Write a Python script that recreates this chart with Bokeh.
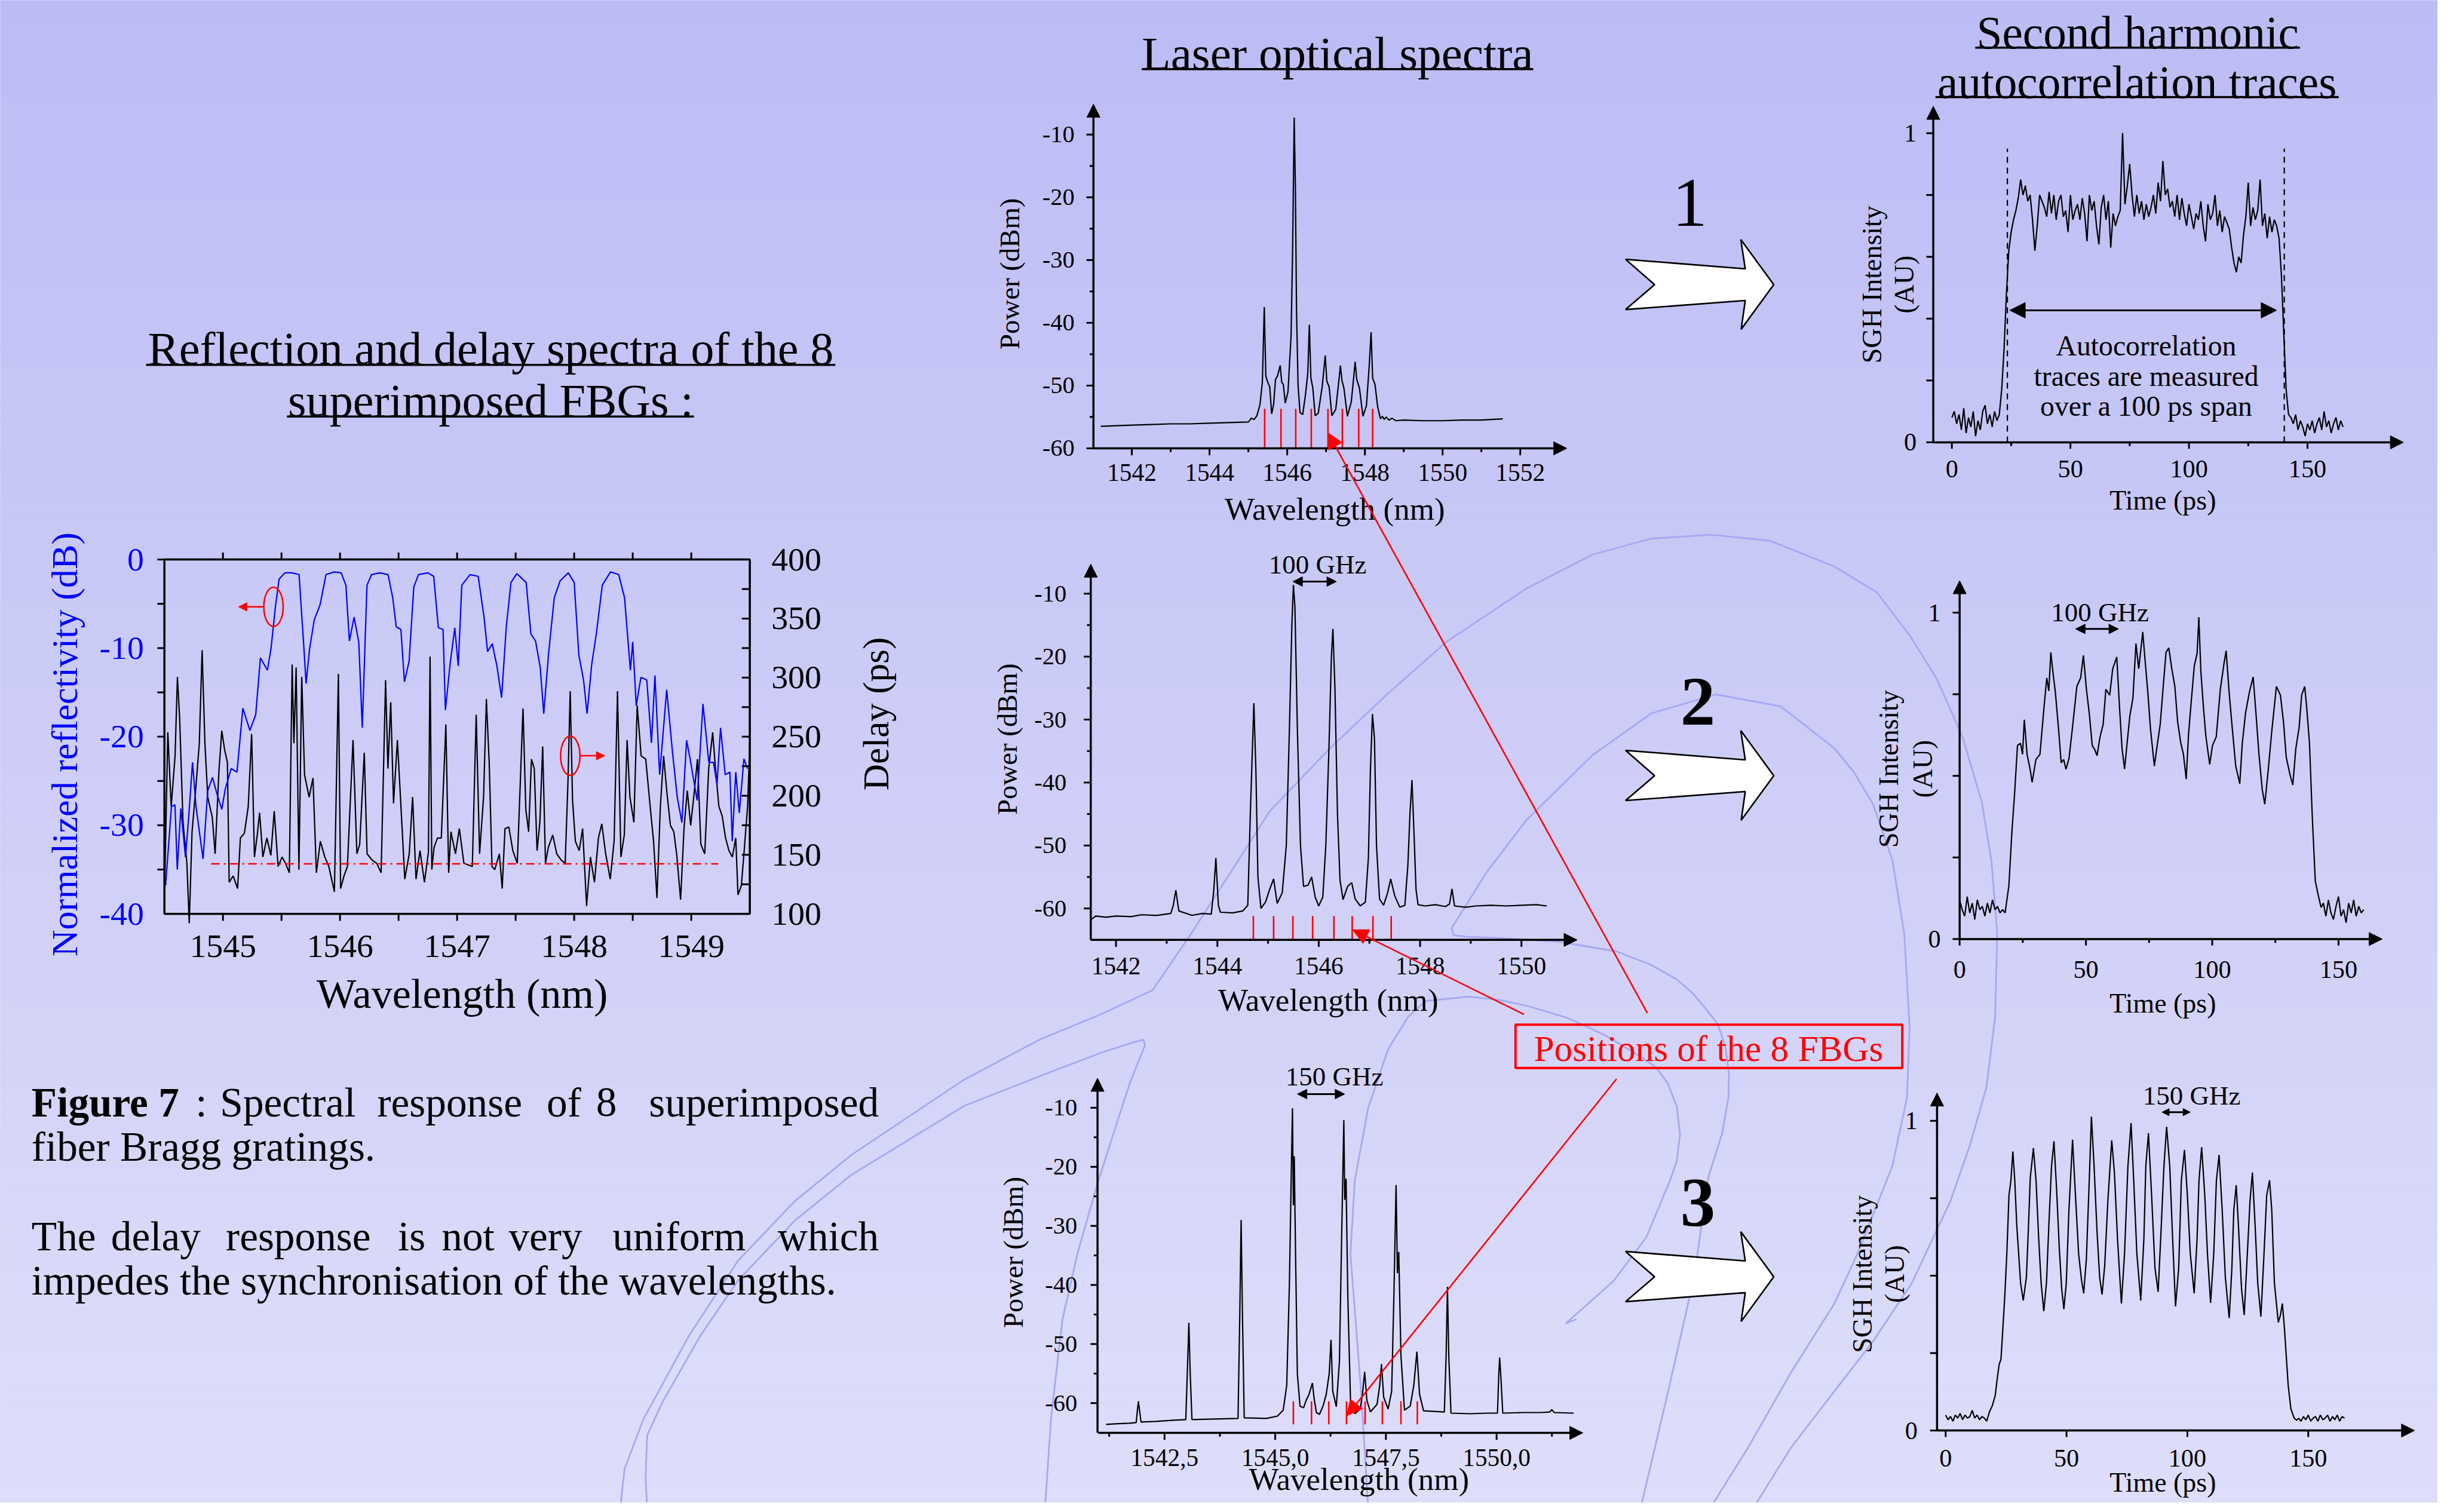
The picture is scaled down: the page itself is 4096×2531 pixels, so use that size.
import math
from bokeh.plotting import figure
from bokeh.models import Range1d, Arrow, NormalHead
from bokeh.core.properties import value
from bokeh.embed import file_html
from bokeh.resources import INLINE

S = 0.9
W, H = 4080, 2515
X0 = 8 / S
X1 = X0 + W / S
Y0 = 8 / S
Y1 = Y0 + H / S
FONT = value("Liberation Serif")
BASELINE_FIX = 0.21     # em; SVG text sits lower than the requested alphabetic baseline

# ---------------------------------------------------------------- data
# Left panel: reflectivity (dB) and delay (ps) vs wavelength (nm)
L_REFL = [(1544.51,-36.8),(1544.56,-27.9),(1544.59,-27.7),(1544.61,-35.0),(1544.64,-28.1),(1544.68,-33.6),
          (1544.71,-28.6),(1544.74,-22.9),(1544.77,-27.9),(1544.83,-33.8),(1544.87,-26.1),(1544.91,-24.6),
          (1544.95,-26.5),(1544.99,-28.2),(1545.02,-25.9),(1545.07,-23.6),(1545.12,-24.0),(1545.17,-16.8),
          (1545.23,-19.3),(1545.28,-17.5),(1545.32,-11.1),(1545.38,-12.5),(1545.41,-10.1),(1545.45,-5.1),
          (1545.48,-2.2),(1545.53,-1.5),(1545.59,-1.5),(1545.65,-1.7),(1545.69,-9.7),(1545.71,-14.0),
          (1545.74,-10.1),(1545.78,-6.8),(1545.83,-5.1),(1545.88,-1.7),(1545.95,-1.4),(1546.01,-1.5),
          (1546.05,-2.9),(1546.08,-9.2),(1546.12,-6.5),(1546.16,-9.3),(1546.19,-19.0),(1546.23,-2.9),
          (1546.27,-1.7),(1546.34,-1.5),(1546.41,-1.7),(1546.45,-4.3),(1546.48,-7.6),(1546.52,-7.9),
          (1546.55,-13.8),(1546.59,-11.5),(1546.63,-3.1),(1546.67,-1.7),(1546.75,-1.5),(1546.80,-1.9),
          (1546.84,-7.7),(1546.88,-7.9),(1546.90,-17.0),(1546.94,-11.8),(1546.98,-7.7),(1547.01,-12.0),
          (1547.04,-2.9),(1547.11,-1.7),(1547.18,-1.9),(1547.23,-6.5),(1547.26,-10.4),(1547.30,-9.5),
          (1547.34,-12.0),(1547.38,-15.6),(1547.42,-7.6),(1547.46,-2.6),(1547.51,-1.6),(1547.59,-2.6),
          (1547.63,-8.4),(1547.67,-9.2),(1547.71,-12.2),(1547.74,-17.4),(1547.78,-10.8),(1547.83,-4.3),
          (1547.88,-2.4),(1547.95,-1.5),(1548.00,-2.6),(1548.04,-10.8),(1548.08,-13.6),(1548.11,-17.4),
          (1548.15,-11.8),(1548.19,-8.3),(1548.24,-2.9),(1548.31,-1.4),(1548.38,-1.7),(1548.43,-4.3),
          (1548.48,-12.5),(1548.50,-9.3),(1548.53,-16.5),(1548.57,-13.3),(1548.62,-13.6),(1548.66,-20.7),
          (1548.69,-13.1),(1548.73,-24.3),(1548.75,-21.1),(1548.79,-14.7),(1548.84,-21.8),(1548.88,-26.8),
          (1548.92,-29.7),(1548.96,-20.4),(1548.99,-22.5),(1549.05,-27.2),(1549.10,-16.3),(1549.15,-22.9),
          (1549.19,-22.9),(1549.22,-25.4),(1549.25,-19.0),(1549.29,-24.3),(1549.33,-24.0),(1549.35,-31.8),
          (1549.38,-24.0),(1549.41,-28.6),(1549.45,-22.5),(1549.48,-23.6)]
L_DELAY = [(1544.500,110.7),(1544.529,253.7),(1544.558,190.9),(1544.591,233.7),(1544.611,300.5),(1544.630,265.8),
           (1544.659,177.5),(1544.692,142.8),(1544.712,92.0),(1544.736,169.5),(1544.764,201.6),(1544.798,244.4),
           (1544.822,323.3),(1544.846,244.4),(1544.870,198.9),(1544.909,181.6),(1544.933,150.8),(1544.966,221.7),
           (1544.990,255.1),(1545.014,239.0),(1545.038,228.3),(1545.053,126.7),(1545.087,132.1),(1545.125,121.4),
           (1545.149,164.2),(1545.183,168.2),(1545.216,190.9),(1545.245,252.4),(1545.269,148.1),(1545.293,166.8),
           (1545.313,185.6),(1545.341,148.1),(1545.375,164.2),(1545.409,149.5),(1545.438,186.9),(1545.471,140.1),
           (1545.505,148.1),(1545.534,142.8),(1545.567,134.8),(1545.591,311.2),(1545.606,244.4),(1545.625,308.6),
           (1545.649,137.4),(1545.673,300.5),(1545.697,217.6),(1545.736,198.9),(1545.769,214.9),(1545.798,134.8),
           (1545.832,161.5),(1545.870,148.1),(1545.904,140.1),(1545.952,118.7),(1545.986,303.2),(1546.005,121.4),
           (1546.034,132.1),(1546.063,140.1),(1546.111,247.1),(1546.144,150.8),(1546.168,158.8),(1546.207,236.4),
           (1546.231,150.8),(1546.274,145.5),(1546.313,142.8),(1546.351,134.8),(1546.389,297.9),(1546.409,223.0),
           (1546.433,279.1),(1546.457,193.6),(1546.490,247.1),(1546.529,174.9),(1546.553,129.4),(1546.591,150.8),
           (1546.620,198.9),(1546.649,129.4),(1546.683,153.5),(1546.721,126.7),(1546.755,152.1),(1546.769,317.9),
           (1546.784,137.4),(1546.803,156.2),(1546.832,164.2),(1546.865,164.2),(1546.904,260.4),(1546.928,134.8),
           (1546.947,169.5),(1546.986,150.8),(1547.019,172.2),(1547.058,142.8),(1547.130,140.1),(1547.163,268.5),
           (1547.192,150.8),(1547.226,198.9),(1547.250,281.8),(1547.274,228.3),(1547.298,140.1),(1547.322,137.4),
           (1547.361,150.8),(1547.385,121.4),(1547.409,172.2),(1547.442,173.5),(1547.476,153.5),(1547.514,142.8),
           (1547.563,273.8),(1547.587,188.2),(1547.611,169.5),(1547.635,231.0),(1547.659,223.0),(1547.683,153.5),
           (1547.707,177.5),(1547.731,241.7),(1547.755,142.8),(1547.779,156.2),(1547.817,166.8),(1547.851,150.8),
           (1547.889,145.5),(1547.923,142.8),(1547.947,212.3),(1547.966,288.5),(1547.986,196.3),(1548.010,161.5),
           (1548.043,153.5),(1548.072,172.2),(1548.106,106.7),(1548.139,148.1),(1548.173,126.7),(1548.207,164.2),
           (1548.236,176.2),(1548.269,150.8),(1548.308,129.4),(1548.341,161.5),(1548.370,288.5),(1548.399,148.1),
           (1548.428,166.8),(1548.452,247.1),(1548.476,198.9),(1548.510,177.5),(1548.538,276.5),(1548.572,233.7),
           (1548.611,231.0),(1548.649,190.9),(1548.678,161.5),(1548.707,113.4),(1548.736,190.9),(1548.764,233.7),
           (1548.793,201.6),(1548.822,174.9),(1548.851,169.5),(1548.875,150.8),(1548.909,112.0),(1548.938,172.2),
           (1548.966,204.3),(1548.995,174.9),(1549.024,201.6),(1549.053,231.0),(1549.082,158.8),(1549.115,150.8),
           (1549.149,223.0),(1549.183,253.7),(1549.207,223.0),(1549.236,190.9),(1549.264,182.9),(1549.293,164.2),
           (1549.322,153.5),(1549.351,148.1),(1549.380,164.2),(1549.399,116.0),(1549.428,124.1),(1549.452,153.5),
           (1549.481,190.9),(1549.500,244.4)]
L_MEAN_DELAY = [(1544.9, 142.3), (1549.23, 142.3)]
L_X_TICKS = [1545, 1546, 1547, 1548, 1549]
L_Y_TICKS = [0, -10, -20, -30, -40]
L_R_TICKS = [100, 150, 200, 250, 300, 350, 400]

# Laser optical spectra (nm, dBm)
P1 = [(1541.2,-56.5),(1541.6,-56.4),(1542.0,-56.3),(1542.5,-56.2),(1543.0,-56.1),(1543.5,-56.1),(1544.0,-56.0),
      (1544.5,-55.9),(1545.0,-55.8),(1545.08,-55.2),(1545.15,-55.4),(1545.22,-54.8),(1545.3,-53.0),(1545.36,-49.5),
      (1545.41,-37.5),(1545.45,-48.5),(1545.5,-49.5),(1545.55,-50.2),(1545.6,-54.5),(1545.65,-53.0),(1545.7,-49.0),
      (1545.75,-48.5),(1545.82,-46.8),(1545.86,-49.5),(1545.9,-49.8),(1545.95,-52.8),(1546.02,-51.0),(1546.1,-42.0),
      (1546.14,-28.0),(1546.18,-7.3),(1546.21,-18.0),(1546.24,-38.0),(1546.28,-50.0),(1546.33,-54.3),(1546.4,-54.6),
      (1546.47,-51.5),(1546.53,-48.0),(1546.57,-40.3),(1546.61,-48.8),(1546.66,-50.4),(1546.72,-54.8),(1546.8,-54.4),
      (1546.9,-50.2),(1546.98,-45.2),(1547.02,-49.3),(1547.08,-50.2),(1547.15,-54.8),(1547.25,-53.8),(1547.32,-49.8),
      (1547.37,-46.8),(1547.41,-49.2),(1547.46,-50.4),(1547.55,-54.9),(1547.65,-52.6),(1547.71,-48.8),(1547.75,-46.2),
      (1547.79,-49.0),(1547.86,-50.4),(1547.95,-54.9),(1548.04,-53.2),(1548.11,-47.0),(1548.16,-41.5),(1548.2,-48.8),
      (1548.26,-49.8),(1548.33,-53.4),(1548.4,-55.3),(1548.45,-54.9),(1548.5,-55.4),(1548.55,-55.0),(1548.62,-55.5),
      (1548.7,-55.2),(1548.8,-55.6),(1549.0,-55.5),(1549.5,-55.6),(1550.0,-55.6),(1550.5,-55.5),(1551.0,-55.5),
      (1551.55,-55.3)]
P2 = [(1541.5,-61.8),(1541.6,-61.2),(1541.8,-61.4),(1542.0,-61.2),(1542.3,-61.3),(1542.5,-61.0),(1542.8,-61.1),
      (1543.08,-60.8),(1543.13,-59.5),(1543.18,-57.1),(1543.24,-60.4),(1543.5,-61.1),(1543.7,-60.8),(1543.88,-60.9),
      (1543.93,-57.0),(1543.97,-52.0),(1544.02,-59.5),(1544.06,-60.6),(1544.3,-60.7),(1544.5,-60.4),(1544.6,-59.5),
      (1544.65,-45.0),(1544.72,-27.4),(1544.76,-38.0),(1544.8,-55.0),(1544.86,-60.0),(1544.95,-59.0),(1545.03,-57.0),
      (1545.11,-55.3),(1545.18,-59.2),(1545.28,-57.5),(1545.36,-50.0),(1545.42,-32.0),(1545.47,-15.0),(1545.5,-8.6),
      (1545.53,-12.0),(1545.58,-32.0),(1545.64,-50.0),(1545.7,-56.5),(1545.79,-56.3),(1545.86,-55.0),(1545.93,-58.2),
      (1546.0,-59.6),(1546.08,-58.2),(1546.14,-50.0),(1546.2,-35.0),(1546.25,-20.0),(1546.28,-15.6),(1546.32,-25.0),
      (1546.37,-45.0),(1546.42,-55.5),(1546.48,-58.6),(1546.57,-56.5),(1546.65,-55.9),(1546.72,-58.5),(1546.82,-59.6),
      (1546.92,-59.0),(1546.98,-52.0),(1547.02,-38.0),(1547.06,-29.1),(1547.1,-33.0),(1547.14,-50.0),(1547.2,-58.5),
      (1547.28,-59.5),(1547.36,-57.5),(1547.42,-55.3),(1547.5,-58.0),(1547.6,-59.8),(1547.7,-59.5),(1547.76,-53.0),
      (1547.8,-45.0),(1547.84,-39.6),(1547.88,-48.0),(1547.92,-57.0),(1547.96,-59.4),(1548.1,-59.6),(1548.3,-59.4),
      (1548.5,-59.7),(1548.58,-59.3),(1548.63,-56.9),(1548.68,-59.6),(1548.9,-59.8),(1549.1,-59.6),(1549.4,-59.5),
      (1549.7,-59.6),(1550.0,-59.5),(1550.3,-59.4),(1550.5,-59.6)]
P3 = [(1541.18,-63.6),(1541.4,-63.5),(1541.7,-63.4),(1541.86,-63.3),(1541.89,-61.0),(1541.91,-59.7),(1541.94,-61.5),
      (1541.97,-63.2),(1542.3,-63.1),(1542.7,-62.9),(1542.98,-62.8),(1543.01,-56.0),(1543.05,-46.4),(1543.08,-55.0),
      (1543.12,-62.8),(1543.6,-62.7),(1544.16,-62.6),(1544.2,-45.0),(1544.23,-29.0),(1544.26,-45.0),(1544.3,-62.5),
      (1544.8,-62.6),(1545.05,-62.2),(1545.18,-61.2),(1545.26,-57.0),(1545.32,-40.0),(1545.37,-18.0),(1545.39,-10.1),
      (1545.41,-26.5),(1545.43,-18.2),(1545.46,-35.0),(1545.5,-55.0),(1545.56,-60.5),(1545.64,-60.8),(1545.7,-59.5),
      (1545.76,-58.6),(1545.84,-56.6),(1545.88,-59.3),(1545.93,-61.6),(1546.0,-61.9),(1546.08,-60.5),(1546.15,-58.6),
      (1546.22,-55.0),(1546.26,-49.3),(1546.3,-58.0),(1546.38,-60.6),(1546.45,-53.0),(1546.5,-32.0),(1546.55,-12.1),
      (1546.57,-25.6),(1546.6,-22.0),(1546.64,-42.0),(1546.7,-59.5),(1546.8,-61.8),(1546.92,-61.0),(1546.97,-58.5),
      (1547.02,-54.7),(1547.07,-59.5),(1547.15,-61.5),(1547.3,-60.2),(1547.36,-57.0),(1547.4,-53.4),(1547.45,-59.0),
      (1547.55,-61.0),(1547.63,-58.0),(1547.68,-42.0),(1547.73,-23.1),(1547.76,-38.0),(1547.79,-34.4),(1547.84,-52.0),
      (1547.92,-61.2),(1548.05,-60.5),(1548.13,-57.0),(1548.2,-51.3),(1548.26,-58.5),(1548.35,-61.3),(1548.6,-61.4),
      (1548.82,-61.5),(1548.86,-52.0),(1548.89,-40.3),(1548.92,-52.0),(1548.97,-61.7),(1549.4,-61.8),(1549.8,-61.7),
      (1550.02,-61.7),(1550.05,-55.0),(1550.07,-52.3),(1550.1,-56.0),(1550.14,-61.7),(1550.6,-61.6),(1551.0,-61.6),
      (1551.2,-61.5),(1551.25,-61.1),(1551.3,-61.6),(1551.74,-61.7)]
FBG1 = [1545.42, 1545.84, 1546.22, 1546.62, 1547.05, 1547.42, 1547.84, 1548.20]
FBG2 = [1544.71, 1545.11, 1545.49, 1545.88, 1546.30, 1546.66, 1547.07, 1547.43]
FBG3 = [1545.41, 1545.82, 1546.21, 1546.61, 1547.03, 1547.42, 1547.84, 1548.21]
P_Y_TICKS = [-10, -20, -30, -40, -50, -60]
P12_X_TICKS = [1542, 1544, 1546, 1548, 1550, 1552]
P3_X_TICKS = [1542.5, 1545.0, 1547.5, 1550.0]
P3_X_LABELS = ["1542,5", "1545,0", "1547,5", "1550,0"]

# Second harmonic autocorrelation traces (ps, AU)
R1_V = [0.08,0.10,0.06,0.09,0.04,0.11,0.03,0.08,0.05,0.10,0.02,0.07,0.04,0.10,0.12,0.06,0.09,0.05,0.10,0.07,
        0.09,0.17,0.30,0.48,0.62,0.68,0.72,0.75,0.79,0.85,
        0.80,0.83,0.78,0.80,0.72,0.62,0.70,0.80,0.78,0.76,
        0.73,0.81,0.74,0.80,0.72,0.78,0.80,0.73,0.75,0.68,
        0.80,0.72,0.75,0.77,0.72,0.79,0.74,0.65,0.80,0.75,
        0.78,0.70,0.64,0.76,0.80,0.72,0.78,0.63,0.74,0.70,
        0.73,0.75,1.00,0.77,0.83,0.90,0.80,0.73,0.80,0.74,
        0.78,0.72,0.77,0.73,0.76,0.80,0.74,0.84,0.78,0.91,
        0.80,0.82,0.76,0.78,0.73,0.80,0.72,0.79,0.74,0.70,
        0.77,0.73,0.69,0.74,0.72,0.78,0.70,0.65,0.77,0.72,
        0.74,0.80,0.70,0.75,0.68,0.73,0.71,0.69,0.63,0.58,
        0.55,0.60,0.58,0.67,0.73,0.84,0.70,0.76,0.72,0.75,
        0.85,0.70,0.74,0.66,0.73,0.68,0.72,0.70,0.66,0.54,
        0.35,0.17,0.09,0.08,0.06,0.09,0.04,0.07,0.05,0.02,
        0.06,0.04,0.07,0.03,0.06,0.08,0.04,0.10,0.05,0.07,
        0.03,0.06,0.08,0.04,0.07,0.05]
R1_T = list(range(len(R1_V)))          # 1 ps sampling
R1_SPAN = [23.4, 140.2]
R2 = [(0,0.12),(1,0.09),(2,0.07),(3,0.13),(4,0.08),(5,0.11),(6,0.06),(7,0.12),(8,0.09),(9,0.10),(10,0.07),
      (11,0.11),(12,0.08),(13,0.12),(14,0.09),(15,0.10),(16,0.08),(17,0.09),(18,0.08),(19.5,0.164),(20.7,0.33),
      (21.8,0.45),(22.9,0.593),(24.1,0.60),(24.9,0.566),(25.6,0.672),(26.7,0.566),(27.9,0.52),(28.7,0.48),
      (30.2,0.55),(31.8,0.566),(33.4,0.71),(34.5,0.80),(35.3,0.76),(36.1,0.878),(36.9,0.82),(37.9,0.756),
      (39.2,0.64),(40.2,0.54),(41.2,0.55),(42.1,0.52),(43.3,0.553),(44.8,0.657),(46.4,0.774),(47.9,0.80),
      (49.0,0.869),(50.2,0.765),(51.3,0.693),(52.5,0.593),(53.5,0.58),(54.4,0.562),(55.6,0.62),(56.8,0.657),
      (57.9,0.765),(59.4,0.747),(60.6,0.828),(62.2,0.864),(63.3,0.71),(64.3,0.584),(65.3,0.521),(66.3,0.60),
      (67.4,0.684),(68.6,0.738),(69.8,0.905),(70.9,0.828),(72.5,0.941),(73.2,0.874),(74.5,0.756),(75.6,0.64),
      (77.1,0.53),(78.2,0.593),(79.4,0.657),(80.6,0.774),(81.7,0.878),(82.8,0.892),(84.0,0.828),(85.2,0.774),
      (86.3,0.666),(87.5,0.603),(88.6,0.566),(89.7,0.49),(90.6,0.625),(91.7,0.729),(92.9,0.837),(94.0,0.874),
      (94.7,0.986),(95.5,0.82),(96.6,0.702),(97.5,0.62),(99.0,0.535),(100.1,0.593),(101.6,0.62),(103.2,0.765),
      (104.7,0.846),(105.5,0.883),(106.7,0.756),(107.8,0.657),(109.3,0.53),(110.9,0.476),(111.9,0.60),
      (113.2,0.693),(114.7,0.756),(116.2,0.803),(117.3,0.693),(118.5,0.566),(119.8,0.458),(120.8,0.413),
      (122.1,0.512),(123.6,0.639),(125.4,0.774),(127.0,0.747),(128.2,0.666),(129.3,0.557),(130.8,0.503),
      (131.9,0.472),(133.1,0.584),(134.4,0.648),(135.4,0.747),(136.6,0.774),(137.4,0.71),(138.5,0.60),
      (139.6,0.377),(140.8,0.178),(142.0,0.133),(143.1,0.097),(144,0.11),(145,0.07),(146,0.12),(147,0.08),
      (148,0.06),(149,0.10),(150,0.13),(151,0.07),(152,0.09),(153,0.05),(154,0.11),(155,0.08),(156,0.12),
      (157,0.07),(158,0.10),(159,0.08),(160,0.09)]
R3 = [(0,0.05),(1,0.035),(2,0.045),(3,0.03),(4,0.05),(5,0.04),(6,0.055),(7,0.035),(8,0.05),(9,0.04),(10,0.045),
      (11,0.065),(12,0.04),(13,0.05),(14,0.035),(15,0.045),(16,0.04),(17,0.03),(18.1,0.06),(19.3,0.08),(20.5,0.113),
      (21.3,0.165),(22.1,0.212),(22.9,0.231),(23.7,0.335),(24.5,0.439),(25.3,0.571),(26.2,0.76),(27.0,0.807),
      (27.8,0.901),(28.6,0.807),(29.4,0.665),(30.2,0.571),(31.0,0.476),(32.1,0.42),(33.4,0.495),(34.2,0.646),
      (35.0,0.816),(36.3,0.912),(37.4,0.807),(38.5,0.618),(39.5,0.476),(40.6,0.385),(41.7,0.476),(42.7,0.665),
      (43.8,0.854),(44.8,0.934),(45.9,0.778),(47.0,0.59),(48.0,0.458),(48.9,0.392),(49.9,0.476),(51.0,0.712),
      (52.5,0.939),(53.7,0.759),(55.0,0.571),(56.2,0.486),(57.1,0.443),(58.2,0.552),(59.4,0.807),(60.3,1.014),
      (61.4,0.854),(62.6,0.646),(63.7,0.495),(64.7,0.439),(65.8,0.533),(67.1,0.741),(68.7,0.937),(69.8,0.835),
      (71.1,0.618),(72.7,0.41),(74.0,0.571),(75.4,0.854),(76.7,0.993),(77.8,0.807),(79.1,0.571),(80.7,0.42),
      (82.0,0.618),(82.8,0.854),(83.9,0.96),(85.2,0.759),(86.6,0.524),(87.9,0.448),(89.0,0.627),(90.3,0.854),
      (91.4,0.981),(92.7,0.854),(93.9,0.618),(95.1,0.401),(96.4,0.524),(97.5,0.807),(98.8,0.906),(100.0,0.759),
      (101.2,0.571),(102.8,0.443),(104.0,0.618),(104.8,0.807),(105.9,0.915),(107.2,0.759),(108.3,0.571),
      (109.6,0.412),(110.9,0.571),(112.0,0.807),(113.1,0.89),(114.4,0.712),(115.7,0.495),(117.3,0.363),
      (118.4,0.524),(119.2,0.712),(120.2,0.792),(121.1,0.665),(122.4,0.458),(123.5,0.373),(124.8,0.571),
      (125.9,0.741),(126.9,0.833),(128.0,0.665),(129.1,0.476),(130.4,0.368),(131.7,0.571),(132.8,0.759),
      (134.0,0.808),(134.9,0.712),(136.0,0.476),(137.6,0.349),(138.5,0.373),(139.3,0.41),(140.1,0.335),
      (140.9,0.24),(141.7,0.146),(142.8,0.071),(144.1,0.041),(145.2,0.033),(146,0.04),(147,0.03),(148,0.045),
      (149,0.035),(150,0.05),(151,0.03),(152,0.04),(153,0.045),(154,0.03),(155,0.05),(156,0.035),(157,0.04),
      (158,0.05),(159,0.03),(160,0.045),(161,0.035),(162,0.05),(163,0.03),(164,0.045),(165,0.04)]
R_X_TICKS = [0, 50, 100, 150]
R_X_LABELS = ["0", "50", "100", "150"]

# ---------------------------------------------------------------- figure
p = figure(width=W, height=H, x_range=Range1d(X0, X1), y_range=Range1d(Y1, Y0),
           output_backend="svg", toolbar_location=None, min_border=0,
           x_axis_type=None, y_axis_type=None)
p.outline_line_color = None
p.background_fill_color = "#cfcff7"
p.border_fill_color = "#cfcff7"

# panel placement: (value, reference-pixel, value, reference-pixel)
PX = {"Lx": (1545, 423, 1549, 1294), "P1x": (1542, 2113.4, 1552, 2835.8),
      "P2x": (1542, 2084, 1550, 2838), "P3x": (1542.5, 2174.2, 1550, 2791.8),
      "R1x": (0, 3638.6, 150, 4300), "R2x": (0, 3653, 150, 4357.7), "R3x": (0, 3627, 150, 4301.4)}
PY = {"Ly": (0, 1049, -40, 1708), "Lr": (400, 1049, 100, 1708),
      "P1y": (-10, 258.6, -60, 842.2), "P2y": (-10, 1112.5, -60, 1698), "P3y": (-10, 2068.7, -60, 2618),
      "R1y": (1, 256, 0, 831), "R2y": (1, 1147.8, 0, 1754.9), "R3y": (1, 2093, 0, 2669)}


def mk(a, pa, b, pb, lo, hi):
    k = (b - a) / (pb - pa)
    return Range1d(a + (lo - pa) * k, a + (hi - pa) * k)


p.extra_x_ranges = {n: mk(*v, X0, X1) for n, v in PX.items()}
p.extra_y_ranges = {n: mk(*v, Y1, Y0) for n, v in PY.items()}

# background gradient
NB = 90
edges = [Y0 + (Y1 - Y0) * i / NB for i in range(NB + 1)]
cols = []
for i in range(NB):
    f = ((edges[i] + edges[i + 1]) / 2) / 2812.0
    r = round(188 + (222 - 188) * f)
    b = round(245 + (250 - 245) * f)
    cols.append("#%02x%02x%02x" % (r, r, b))
p.quad(left=X0, right=X1, top=edges[:-1], bottom=edges[1:], fill_color=cols, line_color=cols, line_width=1)

# faint decorative swirls
SWIRLS = [
    [(1162,2812),(1170,2740),(1205,2648),(1289,2494),(1381,2353),(1486,2243),(1591,2157),(1802,2016),(1942,1942),
     (2060,1893),(2152,1850),(2223,1746),(2297,1631),(2370,1517),(2480,1402),(2590,1298),(2700,1201),(2847,1103),
     (2970,1040),(3080,1010),(3191,1003),(3300,1014),(3420,1062),(3499,1110),(3560,1190),(3610,1270),(3658,1378),
     (3694,1499),(3712,1608),(3723,1745),(3719,1900),(3703,2030),(3672,2139),(3636,2242),(3564,2395),(3492,2503),
     (3420,2596),(3340,2700),(3270,2812)],
    [(1212,2812),(1209,2758),(1212,2678),(1240,2617),(1310,2494),(1381,2390),(1486,2279),(1591,2194),(1802,2065),
     (1942,2010),(2060,1965),(2120,1946),(2135,1942),(2138,1952),(2110,2022),(2082,2108),(2047,2218),(2012,2341),
     (1984,2464),(1963,2648),(1952,2812)],
    [(3060,2812),(3110,2600),(3160,2380),(3185,2200),(3211,2117),(3223,2050),(3224,2007),(3217,1953),(3203,1913),
     (3183,1887),(3158,1857),(3127,1830),(3077,1802),(3015,1778),(2908,1760),(2796,1753),(2740,1751),(2712,1748),
     (2708,1735),(2730,1700),(2773,1631),(2847,1534),(2970,1413),(3080,1335),(3200,1300),(3320,1322),(3420,1400),
     (3456,1444),(3492,1504),(3528,1608),(3550,1745),(3560,1920),(3555,2050),(3528,2177),(3463,2340),(3420,2433),
     (3340,2560),(3260,2700),(3190,2812)],
    [(2553,2812),(2540,2600),(2520,2340),(2528,2204),(2553,2069),(2590,1960),(2627,1900),(2660,1870),(2740,1862),
     (2796,1868),(2852,1880),(2925,1902),(2992,1933),(3049,1967),(3088,1993),(3110,2023),(3127,2067),(3133,2117),
     (3127,2167),(3116,2200),(3070,2310),(3010,2390),(2960,2435),(2920,2470),(2940,2462)],
]
for sw in SWIRLS:
    p.line([a for a, _ in sw], [b for _, b in sw], line_color="#a4a4f2", line_width=2.8, line_alpha=0.95)


# ---------------------------------------------------------------- helpers
def T(x, y, s, size, align="center", base="alphabetic", color="black", angle=0.0, style="normal",
      xr="default", yr="default"):
    xs = list(x) if isinstance(x, (list, tuple)) else [x]
    ys = list(y) if isinstance(y, (list, tuple)) else [y]
    ss = list(s) if isinstance(s, (list, tuple)) else [s]
    n = max(len(xs), len(ys), len(ss))
    xs = xs * n if len(xs) == 1 else xs
    ys = ys * n if len(ys) == 1 else ys
    ss = ss * n if len(ss) == 1 else ss
    if base == "alphabetic" and yr == "default":
        ys = [v - BASELINE_FIX * size for v in ys]
    p.text(x=xs, y=ys, text=ss, x_range_name=xr, y_range_name=yr, text_font=FONT,
           text_font_size="%.1fpx" % (size * S), text_align=align, text_baseline=base,
           text_color=color, angle=angle, text_font_style=style)


def SEG(x0, y0, x1, y1, xr="default", yr="default", color="black", lw=3.0, dash="solid"):
    n = max(len(v) if isinstance(v, list) else 1 for v in (x0, y0, x1, y1))
    fix = lambda v: v if isinstance(v, list) else [v] * n
    p.segment(x0=fix(x0), y0=fix(y0), x1=fix(x1), y1=fix(y1), x_range_name=xr, y_range_name=yr,
              line_color=color, line_width=lw, line_dash=dash)


def ARROW(x0, y0, x1, y1, xr="default", yr="default", color="black", lw=3.2, size=20, both=False):
    head = lambda: NormalHead(size=size, fill_color=color, line_color=color, line_width=1)
    p.add_layout(Arrow(start=head() if both else None, end=head(), x_start=x0, y_start=y0, x_end=x1, y_end=y1,
                       line_color=color, line_width=lw, x_range_name=xr, y_range_name=yr))


def CURVE(pts, xr, yr, color="black", lw=2.3):
    p.line([a for a, _ in pts], [b for _, b in pts], x_range_name=xr, y_range_name=yr,
           line_color=color, line_width=lw)


def arange(a, b, st):
    out, v = [], a
    while v <= b + 1e-9:
        out.append(round(v, 6))
        v += st
    return out


# ---------------------------------------------------------------- headings
T(2496, 125.7, "Laser optical spectra", 88)
SEG(2131.7, 137, 2860, 137, lw=3.5)
T(3984, 88, "Second harmonic", 86)
SEG(3682, 97, 4286, 97, lw=3.5)
T(3983, 180, "autocorrelation traces", 86)
SEG(3608, 189, 4358, 189, lw=3.5)
T(921, 675, "Reflection and delay spectra of the 8", 87)
SEG(280, 687, 1562, 687, lw=3.5)
T(921, 771.7, "superimposed FBGs :", 87)
SEG(542, 783, 1299, 783, lw=3.5)

# caption (justified lines placed word by word)
CAP = 77
T(67, 2075, "Figure 7", CAP, align="left", style="bold")
for wx, word in [(372, ":"), (417.6, "Spectral"), (710, "response"), (1025, "of"), (1117, "8")]:
    T(wx, 2075, word, CAP, align="left")
T(1643, 2075, "superimposed", CAP, align="right")
T(67, 2157, "fiber Bragg gratings.", CAP, align="left")
for wx, word in [(67, "The"), (214.8, "delay"), (428.4, "response"), (748.4, "is"), (829.7, "not"),
                 (954.4, "very"), (1147.5, "uniform")]:
    T(wx, 2324, word, CAP, align="left")
T(1643, 2324, "which", CAP, align="right")
T(67, 2406.7, "impedes the synchronisation of the wavelengths.", CAP, align="left")

# ---------------------------------------------------------------- left panel
BLUE = "#0000ff"
CURVE(L_DELAY, "Lx", "Lr", "black", 2.2)
CURVE(L_REFL, "Lx", "Ly", BLUE, 2.2)
p.line([a for a, _ in L_MEAN_DELAY], [b for _, b in L_MEAN_DELAY], x_range_name="Lx", y_range_name="Lr",
       line_color="red", line_width=2.5, line_dash="14 7 3 7")
p.quad(left=[1544.5], right=[1549.5], top=[0], bottom=[-40], x_range_name="Lx", y_range_name="Ly",
       fill_color=None, line_color="black", line_width=3.5)
lxt = arange(1545, 1549, 0.5)
SEG(lxt, 1049, lxt, 1036, xr="Lx", lw=3)
SEG(lxt, 1708, lxt, 1721, xr="Lx", lw=3)
lyt = arange(-35, 0, 5)
SEG(314, lyt, 301, lyt, yr="Ly", lw=3)
lrt = arange(125, 375, 25)
SEG(1402, lrt, 1388, lrt, yr="Lr", lw=3)
T(L_X_TICKS, 1781, [str(v) for v in L_X_TICKS], 62, xr="Lx")
T(276, L_Y_TICKS, [str(v) for v in L_Y_TICKS], 62, align="right", base="middle", color=BLUE, yr="Ly")
T(1443, L_R_TICKS, [str(v) for v in L_R_TICKS], 62, align="left", base="middle", yr="Lr")
T(868, 1872, "Wavelength (nm)", 78)
T(128, 1393, "Normalized reflectivity (dB)", 69, base="middle", color=BLUE, angle=math.pi / 2)
T(1637, 1336, "Delay (ps)", 68, base="middle", angle=math.pi / 2)
p.ellipse(x=[517, 1069], y=[1137, 1414], width=[36, 36], height=[73, 73], fill_color=None,
          line_color="red", line_width=2.5)
ARROW(499, 1137, 452, 1137, color="red", lw=2.5, size=14)
ARROW(1087, 1414, 1133, 1414, color="red", lw=2.5, size=14)

# ---------------------------------------------------------------- spectra panels
SPEC = [
    # name, curve, fbg, fbg y-span, axisX(px), axisY(px), x-axis value, y-tip, x-start, x-tip,
    # major x ticks, minor x ticks, x labels, label baseline, y-label right edge, xlabel x, xlabel baseline, ylabel pos
    ("P1", P1, FBG1, (-60, -53.7), 2042, 842.2, -60, -5.15, 1541.0, 1553.2,
     P12_X_TICKS, arange(1543, 1551, 2), [str(v) for v in P12_X_TICKS], 897, 2007, 2491, 967.7, (1886, 517.6)),
    ("P2", P2, FBG2, (-65, -61.2), 2037, 1756.5, -65, -5.3, 1541.5, 1551.1,
     P12_X_TICKS[:-1], arange(1543, 1549, 2), [str(v) for v in P12_X_TICKS[:-1]], 1815, 1992, 2478.6, 1881,
     (1882, 1383)),
    ("P3", P3, FBG3, (-63.6, -59.7), 2049.6, 2673.4, -65, -5.0, 1541.0, 1551.95,
     P3_X_TICKS, [1541.25, 1543.75, 1546.25, 1548.75, 1551.25], P3_X_LABELS, 2729, 2012, 2536, 2772,
     (1893, 2337.6)),
]
for (nm, curve, fbg, fy, ax, ay, xval, ytip, xs0, xtip, majx, minx, xlab, xlb, ylr, wlx, wly, pwr) in SPEC:
    xr, yr = nm + "x", nm + "y"
    CURVE(curve, xr, yr, "black", 2.2)
    SEG(fbg, fy[0], fbg, fy[1], xr=xr, yr=yr, color="red", lw=2.6)
    ARROW(ax, xval, ax, ytip, yr=yr, size=22, lw=3.5)
    ARROW(xs0, ay, xtip, ay, xr=xr, size=22, lw=3.5)
    SEG(ax, P_Y_TICKS, ax - 13, P_Y_TICKS, yr=yr, lw=3)
    ymin = arange(-55, -15, 10)
    SEG(ax, ymin, ax - 7, ymin, yr=yr, lw=3)
    SEG(majx, ay, majx, ay + 13, xr=xr, lw=3)
    SEG(minx, ay, minx, ay + 7, xr=xr, lw=3)
    T(majx, xlb, xlab, 46, xr=xr)
    T(ylr, P_Y_TICKS, [str(v) for v in P_Y_TICKS], 45, align="right", base="middle", yr=yr)
    T(wlx, wly, "Wavelength (nm)", 59)
    T(pwr[0], pwr[1], "Power (dBm)", 52, base="middle", angle=math.pi / 2)

# frequency spacing markers
ARROW(1545.49, -8.08, 1546.35, -8.08, xr="P2x", yr="P2y", size=16, lw=3, both=True)
T(2459, 1068.9, "100 GHz", 50)
ARROW(1545.50, -7.68, 1546.57, -7.68, xr="P3x", yr="P3y", size=16, lw=3, both=True)
T(2490, 2020.9, "150 GHz", 50)

# ---------------------------------------------------------------- autocorrelation panels
p.line(R1_T, R1_V, x_range_name="R1x", y_range_name="R1y", line_color="black", line_width=2.2)
CURVE(R2, "R2x", "R2y", "black", 2.2)
CURVE(R3, "R3x", "R3y", "black", 2.2)
SEG(R1_SPAN, 0, R1_SPAN, 0.95, xr="R1x", yr="R1y", lw=2.2, dash="10 8")
ARROW(24.4, 0.427, 137, 0.427, xr="R1x", yr="R1y", size=26, lw=3, both=True)
T(4000, 662, "Autocorrelation", 53)
T(4000, 719, "traces are measured", 53)
T(4000, 775, "over a 100 ps span", 53)

AC = [
    # name, axisX px, axisY px, y-tick values, x major, x minor, tip y, x start, x tip,
    # x-label baseline, y-label right edge, SGH x, AU x, label y, Time baseline
    ("R1", 3604, 831, arange(0, 1, 0.2), R_X_TICKS, [25, 75, 125], 1.087, -7.85, 190.5, 890.6, 3573,
     3490, 3550, 537.5, 950),
    ("R2", 3653, 1754.9, arange(0, 1, 0.25), R_X_TICKS, [25, 75, 125], 1.098, 0, 167.3, 1822, 3618,
     3521, 3584, 1438.4, 1885.4),
    ("R3", 3611, 2669, arange(0, 1, 0.25), R_X_TICKS, [], 1.09, -3.56, 194, 2730.5, 3575,
     3472, 3531.7, 2378, 2776),
]
for (nm, ax, ay, yt, majx, minx, ytip, xs0, xtip, xlb, ylr, sx, aux, ly, tb) in AC:
    xr, yr = nm + "x", nm + "y"
    ARROW(ax, 0, ax, ytip, yr=yr, size=22, lw=3.5)
    ARROW(xs0, ay, xtip, ay, xr=xr, size=22, lw=3.5)
    SEG(ax, yt, ax - 13, yt, yr=yr, lw=3)
    SEG(majx, ay, majx, ay + 12, xr=xr, lw=3)
    if minx:
        SEG(minx, ay, minx, ay + 7, xr=xr, lw=3)
    T(majx, xlb, R_X_LABELS, 47, xr=xr)
    T(ylr, [0, 1], ["0", "1"], 47, align="right", base="middle", yr=yr)
    T(sx, ly, "SGH Intensity", 51, base="middle", angle=math.pi / 2)
    T(aux, ly, "(AU)", 51, base="middle", angle=math.pi / 2)
    T(4031, tb, "Time (ps)", 51)

ARROW(45.9, 0.95, 62.9, 0.95, xr="R2x", yr="R2y", size=16, lw=3, both=True)
T(3914, 1157.6, "100 GHz", 50)
ARROW(89.5, 1.028, 101.2, 1.028, xr="R3x", yr="R3y", size=12, lw=3, both=True)
T(4084.7, 2056.7, "150 GHz", 50)

# ---------------------------------------------------------------- step arrows 1, 2, 3
SHAPE = [(3031.7, 490.7), (3254.3, 508.3), (3246, 454), (3307.3, 537.7), (3246.7, 620.7),
         (3254.3, 567.3), (3031.7, 584), (3085.7, 537.7)]
STEPS = [("1", 3151, 413, 0.0, "normal"), ("2", 3166, 1341, 913.3, "bold"), ("3", 3166, 2273, 1845.3, "bold")]
for lab, tx, ty, dy, st in STEPS:
    p.patch([a for a, _ in SHAPE], [b + dy for _, b in SHAPE], fill_color="white", line_color="black",
            line_width=2.6)
    T(tx, ty, lab, 130, style=st)

# ---------------------------------------------------------------- FBG position callout
p.quad(left=[2827], right=[3546.4], top=[1914.3], bottom=[1994.7], fill_color=None,
       line_color="red", line_width=4)
T(3186, 1973, "Positions of the 8 FBGs", 68, color="red")
ARROW(3072.2, 1892.7, 2478, 813, color="red", lw=2.6, size=26)
ARROW(2842.7, 1895, 2524, 1737.6, color="red", lw=2.6, size=26)
ARROW(3015, 2015, 2513, 2642, color="red", lw=2.6, size=26)

open("out.html", "w").write(file_html(p, INLINE))
